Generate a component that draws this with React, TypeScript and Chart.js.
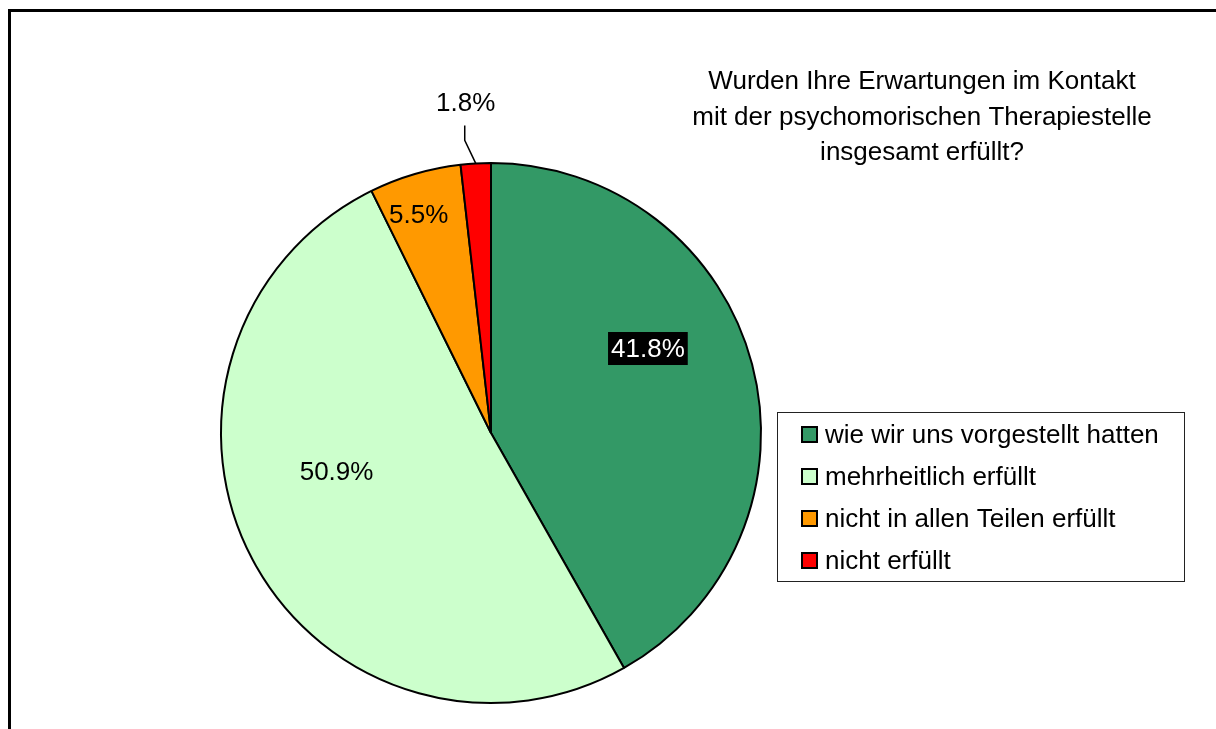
import React, { useEffect, useRef } from "react";
import { Chart, registerables } from "chart.js";

Chart.register(...registerables);

const categories = [
  "wie wir uns vorgestellt hatten",
  "mehrheitlich erfüllt",
  "nicht in allen Teilen erfüllt",
  "nicht erfüllt",
];
const values = [41.8, 50.9, 5.5, 1.8];
const percentLabels = ["41.8%", "50.9%", "5.5%", "1.8%"];
const colors = ["#339966", "#CCFFCC", "#FF9900", "#FF0000"];
const titleLines = [
  "Wurden Ihre Erwartungen im Kontakt",
  "mit der psychomorischen Therapiestelle",
  "insgesamt erfüllt?",
];

const FONT = "26px 'Liberation Sans', Arial, sans-serif";

// label placement: fraction of slice angle, fraction of radius
const labelPlacement = [
  { f: 0.41, r: 0.66 },
  { f: 0.575, r: 0.59 },
  { f: 0.4, r: 0.85 },
  { f: 0.5, r: 1.0, outside: true },
];

const decorPlugin = {
  id: "decor",
  beforeDraw(chart: any) {
    const ctx = chart.ctx;
    ctx.save();
    ctx.fillStyle = "#ffffff";
    ctx.fillRect(0, 0, chart.width, chart.height);
    ctx.restore();
  },
  afterDraw(chart: any) {
    const ctx = chart.ctx;
    ctx.save();
    // outer frame
    ctx.strokeStyle = "#000";
    ctx.lineWidth = 3;
    ctx.strokeRect(9.5, 10.5, 1300, 800);

    // title
    ctx.font = FONT;
    ctx.fillStyle = "#000";
    ctx.textAlign = "center";
    ctx.textBaseline = "alphabetic";
    titleLines.forEach((t, i) => ctx.fillText(t, 922, 89 + i * 35.5));

    // legend
    ctx.lineWidth = 1;
    ctx.strokeStyle = "#222";
    ctx.strokeRect(777.5, 412.5, 407, 169);
    categories.forEach((c, i) => {
      const y = 443 + i * 42;
      ctx.fillStyle = colors[i];
      ctx.fillRect(802, y - 16, 15, 15);
      ctx.lineWidth = 2;
      ctx.strokeStyle = "#000";
      ctx.strokeRect(802, y - 16, 15, 15);
      ctx.fillStyle = "#000";
      ctx.textAlign = "left";
      ctx.fillText(c, 825, y);
    });

    // data labels
    const meta = chart.getDatasetMeta(0);
    meta.data.forEach((arc: any, i: number) => {
      const p = arc.getProps(["x", "y", "startAngle", "endAngle", "outerRadius"], true);
      const pl = labelPlacement[i];
      const a = p.startAngle + pl.f * (p.endAngle - p.startAngle);
      ctx.font = FONT;
      ctx.textAlign = "center";
      ctx.textBaseline = "middle";
      if (pl.outside) {
        const ax = p.x + Math.cos(a) * p.outerRadius;
        const ay = p.y + Math.sin(a) * p.outerRadius;
        ctx.strokeStyle = "#000";
        ctx.lineWidth = 1.5;
        ctx.beginPath();
        ctx.moveTo(ax, ay);
        ctx.lineTo(ax - 11, ay - 23);
        ctx.lineTo(ax - 11, ay - 38);
        ctx.stroke();
        ctx.fillStyle = "#000";
        ctx.fillText(percentLabels[i], ax - 10, ay - 60);
      } else {
        const x = p.x + Math.cos(a) * pl.r * p.outerRadius;
        const y = p.y + Math.sin(a) * pl.r * p.outerRadius;
        if (i === 0) {
          const w = ctx.measureText(percentLabels[i]).width + 6;
          ctx.fillStyle = "#000";
          ctx.fillRect(x - w / 2, y - 16.5, w, 33);
          ctx.fillStyle = "#fff";
        } else {
          ctx.fillStyle = "#000";
        }
        ctx.fillText(percentLabels[i], x, y + 1);
      }
    });
    ctx.restore();
  },
};

export default function App() {
  const ref = useRef<HTMLCanvasElement>(null);
  useEffect(() => {
    if (!ref.current) return;
    const chart = new Chart(ref.current, {
      type: "pie",
      data: {
        labels: categories,
        datasets: [
          {
            data: values,
            backgroundColor: colors,
            borderColor: "#000",
            borderWidth: 2,
          },
        ],
      },
      options: {
        responsive: false,
        animation: false,
        layout: { padding: { left: 220, right: 454, top: 162, bottom: 25 } },
        plugins: {
          legend: { display: false },
          tooltip: { enabled: false },
          title: { display: false },
        },
      },
      plugins: [decorPlugin],
    });
    return () => chart.destroy();
  }, []);
  return (
    <div style={{ position: "fixed", left: 0, top: 0, width: 1216, height: 729 }}>
      <canvas ref={ref} width={1216} height={729} style={{ display: "block" }} />
    </div>
  );
}
